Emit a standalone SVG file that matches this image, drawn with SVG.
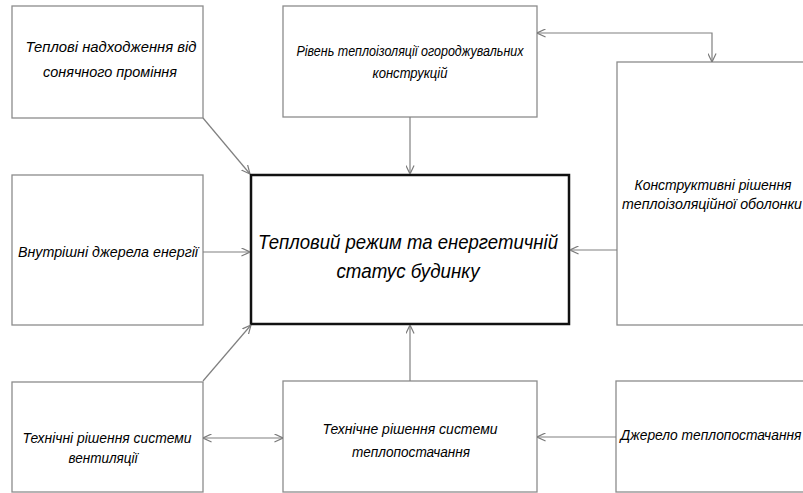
<svg xmlns="http://www.w3.org/2000/svg" width="803" height="493" viewBox="0 0 803 493">
<defs>
<marker id="arr" viewBox="0 0 10 10" refX="9.5" refY="5" markerWidth="9" markerHeight="9" markerUnits="userSpaceOnUse" orient="auto-start-reverse">
<path d="M0,0.5 L9.5,5 L0,9.5" fill="none" stroke="#7a7a7a" stroke-width="1.3"/>
</marker>
<style>
.box{fill:#ffffff;stroke:#8c8c8c;stroke-width:1.3}
.main{fill:#ffffff;stroke:#111111;stroke-width:2.5}
.t{font-family:"Liberation Sans","DejaVu Sans",sans-serif;font-style:italic;font-size:14px;fill:#000000;text-anchor:middle}
.tb{font-family:"Liberation Sans","DejaVu Sans",sans-serif;font-style:italic;font-size:21px;fill:#000000;text-anchor:middle}
.c{fill:none;stroke:#808080;stroke-width:1.2;marker-end:url(#arr)}
.d{fill:none;stroke:#808080;stroke-width:1.2;marker-end:url(#arr);marker-start:url(#arr)}
</style>
</defs>
<rect width="803" height="493" fill="#ffffff"/>
<g id="n-solar">
<rect class="box" x="12" y="6" width="191" height="112"/>
<text class="t" x="111" y="52" textLength="171" lengthAdjust="spacingAndGlyphs">Теплові надходження від</text>
<text class="t" x="110" y="77" textLength="134" lengthAdjust="spacingAndGlyphs">сонячного проміння</text>
</g>
<g id="n-insulation">
<rect class="box" x="283" y="6" width="254" height="111"/>
<text class="t" x="410" y="56" textLength="227" lengthAdjust="spacingAndGlyphs">Рівень теплоізоляції огороджувальних</text>
<text class="t" x="410" y="78" textLength="75" lengthAdjust="spacingAndGlyphs">конструкцій</text>
</g>
<g id="n-envelope">
<rect class="box" x="617" y="62" width="200" height="263"/>
<text class="t" x="713" y="190" textLength="157" lengthAdjust="spacingAndGlyphs">Конструктивні рішення</text>
<text class="t" x="712" y="209" textLength="180" lengthAdjust="spacingAndGlyphs">теплоізоляційної оболонки</text>
</g>
<g id="n-internal">
<rect class="box" x="12" y="175" width="191" height="150"/>
<text class="t" x="108" y="257" textLength="180" lengthAdjust="spacingAndGlyphs">Внутрішні джерела енергії</text>
</g>
<g id="n-main">
<rect class="main" x="251" y="175" width="318" height="149"/>
<text class="tb" x="408" y="249" textLength="300" lengthAdjust="spacingAndGlyphs">Тепловий режим та енергетичній</text>
<text class="tb" x="408" y="278" textLength="143" lengthAdjust="spacingAndGlyphs">статус будинку</text>
</g>
<g id="n-ventilation">
<rect class="box" x="12" y="382" width="191" height="110"/>
<text class="t" x="107" y="443" textLength="169" lengthAdjust="spacingAndGlyphs">Технічні рішення системи</text>
<text class="t" x="103" y="463" textLength="69" lengthAdjust="spacingAndGlyphs">вентиляції</text>
</g>
<g id="n-heating">
<rect class="box" x="283" y="381" width="254" height="111"/>
<text class="t" x="410" y="434" textLength="175" lengthAdjust="spacingAndGlyphs">Технічне рішення системи</text>
<text class="t" x="411" y="457" textLength="118" lengthAdjust="spacingAndGlyphs">теплопостачання</text>
</g>
<g id="n-source">
<rect class="box" x="616" y="381" width="200" height="111"/>
<text class="t" x="711" y="440" textLength="181" lengthAdjust="spacingAndGlyphs">Джерело теплопостачання</text>
</g>
<g id="connectors">
<path class="c" d="M203,118 L250,174"/>
<path class="c" d="M410,117 L410,174"/>
<path class="d" d="M537,33 L712,33 L712,62"/>
<path class="c" d="M617,250 L570,250"/>
<path class="c" d="M203,252 L250,252"/>
<path class="c" d="M203,381 L251,325"/>
<path class="c" d="M410,381 L410,325"/>
<path class="d" d="M203,438 L283,438"/>
<path class="c" d="M616,437 L537,437"/>
</g>
</svg>
